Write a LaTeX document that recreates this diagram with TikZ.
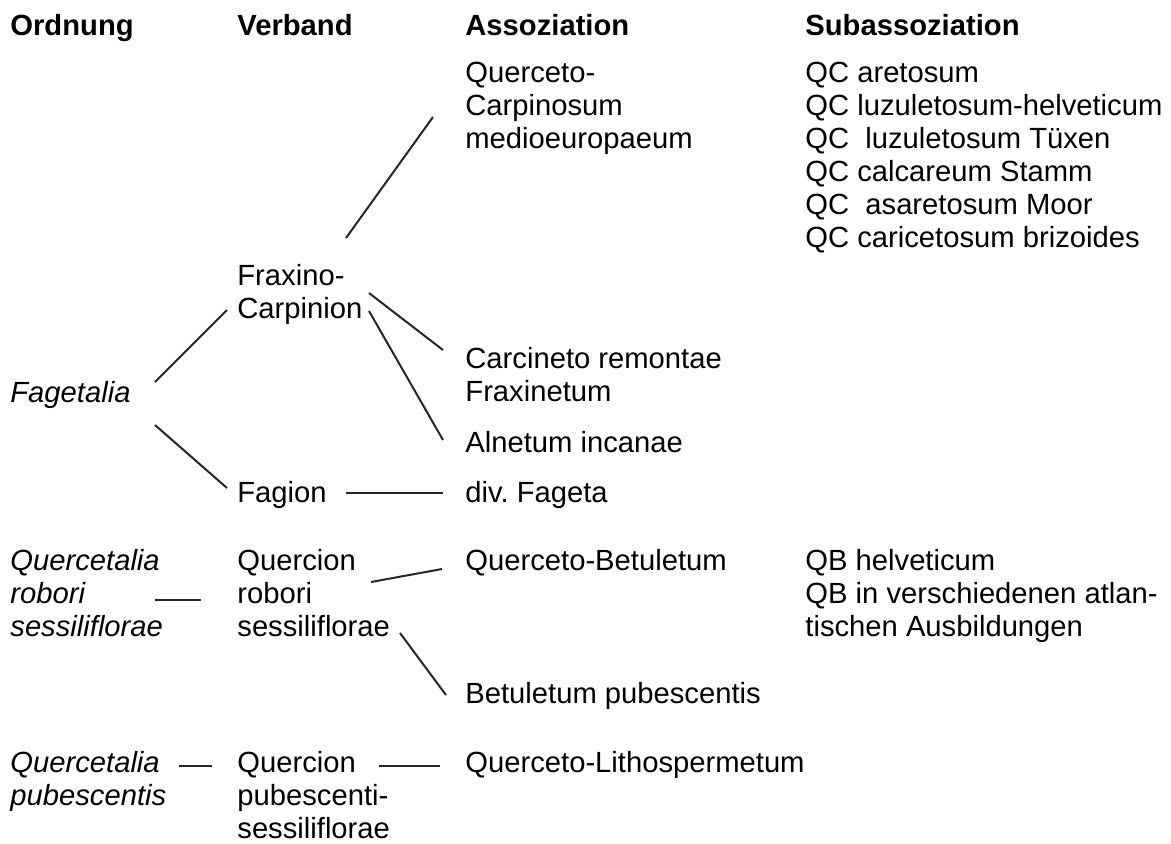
\documentclass[tikz,border=0pt]{standalone}
\usepackage{fontspec}
\setmainfont{Liberation Sans}

\begin{document}
\begin{tikzpicture}[x=0.5pt, y=-0.5pt,
  txt/.style={anchor=base west, inner sep=0pt, align=left, font=\fontsize{14.6}{16.5}\selectfont},
  head/.style={txt, font=\fontsize{14.6}{16.5}\selectfont\bfseries},
  ord/.style={txt, font=\fontsize{14.6}{16.5}\selectfont\itshape},
  link/.style={draw=black!85, line width=1pt}]
  \useasboundingbox (0,0) rectangle (1171,843);

  % Column heads
  \node[head] (hOrd) at (10,35) {Ordnung};
  \node[head] (hVer) at (237,35) {Verband};
  \node[head] (hAss) at (465,35) {Assoziation};
  \node[head] (hSub) at (805,35) {Subassoziation};

  % Ordnung (multi-line nodes sit on their last line)
  \node[ord] (ordFag) at (10,402) {Fagetalia};
  \node[ord] (ordQR) at (10,636) {Quercetalia\\robori\\sessiliflorae};
  \node[ord] (ordQP) at (10,805) {Quercetalia\\pubescentis};

  % Verband
  \node[txt] (verFC) at (237,318) {Fraxino-\\Carpinion};
  \node[txt] (verFag) at (237,502) {Fagion};
  \node[txt] (verQR) at (237,636) {Quercion\\robori\\sessiliflorae};
  \node[txt] (verQP) at (237,838) {Quercion\\pubescenti-\\sessiliflorae};

  % Assoziation
  \node[txt] (assQC) at (465,148) {Querceto-\\Carpinosum\\medioeuropaeum};
  \node[txt] (assCF) at (465,401) {Carcineto remontae\\Fraxinetum};
  \node[txt] (assAI) at (465,452) {Alnetum incanae};
  \node[txt] (assDF) at (465,502) {div.\ Fageta};
  \node[txt] (assQB) at (465,570) {Querceto-Betuletum};
  \node[txt] (assBP) at (465,703) {Betuletum pubescentis};
  \node[txt] (assQL) at (465,772) {Querceto-Lithospermetum};

  % Subassoziation
  \node[txt] (subQC) at (805,247) {QC aretosum\\QC luzuletosum-helveticum\\QC\ \ luzuletosum T\"uxen\\QC calcareum Stamm\\QC\ \ asaretosum Moor\\QC caricetosum brizoides};
  \node[txt] (subQB) at (805,636) {QB helveticum\\QB in verschiedenen atlan-\\tischen Ausbildungen};

  % Links
  \draw[link] ([shift={(145,-20)}]ordFag.base west) -- ([shift={(-10,-8)}]verFC.base west);
  \draw[link] ([shift={(145,23)}]ordFag.base west) -- ([shift={(-10,-14)}]verFag.base west);
  \draw[link] ([shift={(109,-80)}]verFC.base west) -- ([shift={(-32,-31)}]assQC.base west);
  \draw[link] ([shift={(132,-25)}]verFC.base west) -- ([shift={(-22,-51)}]assCF.base west);
  \draw[link] ([shift={(132,-7)}]verFC.base west) -- ([shift={(-22,-12)}]assAI.base west);
  \draw[link] ([shift={(109,-9)}]verFag.base west) -- ([shift={(-22,-9)}]assDF.base west);
  \draw[link] ([shift={(145,-36)}]ordQR.base west) -- ([shift={(-36,-36)}]verQR.base west);
  \draw[link] ([shift={(134,-54)}]verQR.base west) -- ([shift={(-23,-1)}]assQB.base west);
  \draw[link] ([shift={(163,-3)}]verQR.base west) -- ([shift={(-19,-8)}]assBP.base west);
  \draw[link] ([shift={(169,-39)}]ordQP.base west) -- ([shift={(-25,-72)}]verQP.base west);
  \draw[link] ([shift={(142,-72)}]verQP.base west) -- ([shift={(-25,-6)}]assQL.base west);
\end{tikzpicture}
\end{document}
